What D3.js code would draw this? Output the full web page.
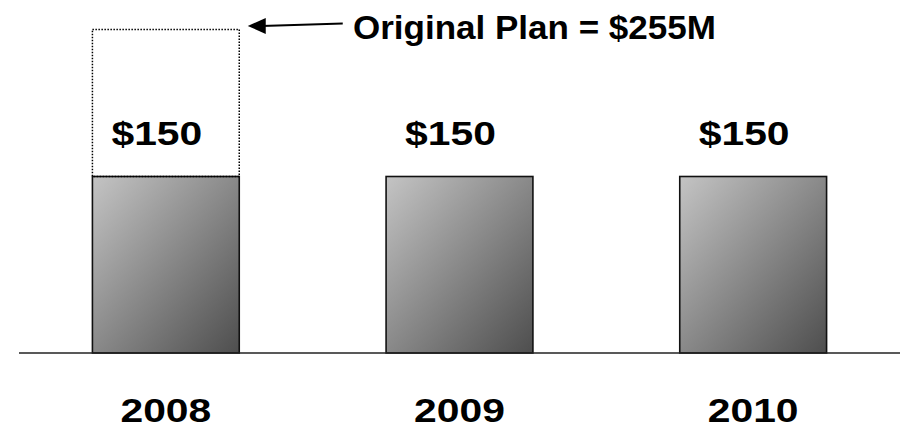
<!DOCTYPE html>
<html>
<head>
<meta charset="utf-8">
<script src="https://cdn.jsdelivr.net/npm/d3@7"></script>
<style>
  html, body { margin: 0; padding: 0; background: #fff; }
  svg { display: block; }
  text { font-family: "Liberation Sans", Arial, sans-serif; font-weight: bold; fill: #000; }
</style>
</head>
<body>
<script>
// Annual funding, $M
const years = ["2008", "2009", "2010"];
const funding = [150, 150, 150];
const valueLabels = ["$150", "$150", "$150"];
// Original plan for the first year
const planYear = "2008";
const planValue = 255;
const planLabel = "Original Plan = $255M";

const W = 900, H = 433;
const baseY = 353;

const svg = d3.select("body").append("svg").attr("width", W).attr("height", H);

const x = d3.scaleBand().domain(years).range([19, 900]).paddingInner(0.5).paddingOuter(0.25);
const y = d3.scaleLinear().domain([24, 276]).range([baseY, 0]);

// diagonal grey shading on the bars
const grad = svg.append("defs").append("linearGradient")
  .attr("id", "barShade").attr("x1", "0").attr("y1", "0").attr("x2", "1").attr("y2", "1");
grad.append("stop").attr("offset", "0%").attr("stop-color", "#c4c4c4");
grad.append("stop").attr("offset", "100%").attr("stop-color", "#4e4e4e");

// bars
svg.selectAll("rect.bar").data(years).join("rect")
  .attr("class", "bar")
  .attr("x", d => x(d))
  .attr("y", (d, i) => y(funding[i]))
  .attr("width", x.bandwidth())
  .attr("height", (d, i) => y.range()[0] - y(funding[i]))
  .attr("fill", "url(#barShade)")
  .attr("stroke", "#111")
  .attr("stroke-width", 1.6);

// dotted outline of the original plan
const pi = years.indexOf(planYear);
svg.append("rect")
  .attr("x", x(planYear))
  .attr("y", y(planValue))
  .attr("width", x.bandwidth())
  .attr("height", y(funding[pi]) - y(planValue))
  .attr("fill", "none")
  .attr("stroke", "#000")
  .attr("stroke-width", 1.5)
  .attr("stroke-dasharray", "1.5,1.5");

// baseline
svg.append("line")
  .attr("x1", 19).attr("x2", 900)
  .attr("y1", baseY).attr("y2", baseY)
  .attr("stroke", "#222").attr("stroke-width", 1.5);

// bold lettering, widened horizontally
function stretchedText(cx, by, txt, size, sx, anchor) {
  svg.append("g")
    .attr("transform", `translate(${cx},${by}) scale(${sx},1)`)
    .append("text")
    .attr("text-anchor", anchor)
    .style("font-size", size + "px")
    .text(txt);
}

// value labels above the bars
years.forEach((d, i) => {
  stretchedText(x(d) + x.bandwidth() / 2 - 9, y(funding[i]) - 32, valueLabels[i], 34, 1.2, "middle");
});

// year labels under the axis
years.forEach(d => {
  stretchedText(x(d) + x.bandwidth() / 2, 422, d, 34, 1.2, "middle");
});

// arrow pointing at the plan outline
const ax1 = x(planYear) + x.bandwidth() + 8.5;
const ay = y(planValue) - 3.5;
svg.append("line")
  .attr("x1", ax1 + 14).attr("x2", ax1 + 95)
  .attr("y1", ay).attr("y2", ay - 2.5)
  .attr("stroke", "#000").attr("stroke-width", 2);
svg.append("path")
  .attr("d", `M${ax1},${ay} L${ax1 + 18},${ay - 8} L${ax1 + 18},${ay + 8} Z`)
  .attr("fill", "#000");

stretchedText(353, 39, planLabel, 34, 1.03, "start");
</script>
</body>
</html>
